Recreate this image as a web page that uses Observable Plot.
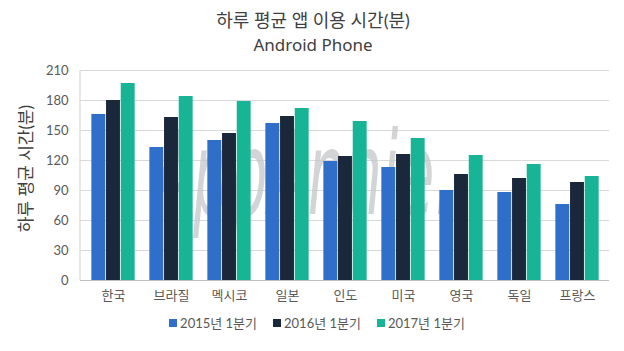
<!DOCTYPE html>
<html>
<head>
<meta charset="utf-8">
<script src="https://cdn.jsdelivr.net/npm/d3@7"></script>
<script src="https://cdn.jsdelivr.net/npm/@observablehq/plot@0.6"></script>
<style>
  html, body { margin: 0; padding: 0; background: #fff; }
  body { width: 624px; height: 351px; position: relative; overflow: hidden;
         font-family: Lato, "Noto Sans CJK KR", sans-serif; color: #404040; }
  .title { position: absolute; left: 0; width: 626px; top: 8px; text-align: center; font-size: 18px; line-height: 24px; }
  .subtitle { position: absolute; left: 0; width: 626px; top: 33px; text-align: center; font-size: 17px; line-height: 24px; font-family: "Noto Sans", sans-serif; }
  #chart { position: absolute; left: 0; top: 58px; }
  .legend { position: absolute; left: 0; width: 634px; top: 314px; display: flex; justify-content: center; gap: 16px;
            font-size: 13px; line-height: 18px; color: #595959; }
  .legend span.sw { display: inline-block; width: 8px; height: 8px; margin-right: 3px; vertical-align: 1px; }
</style>
</head>
<body>
<div class="title" id="title"></div>
<div class="subtitle" id="subtitle"></div>
<div id="chart"></div>
<div class="legend" id="legend"></div>
<script>
const titleText = "하루 평균 앱 이용 시간(분)";
const subtitleText = "Android Phone";
const yLabel = "하루 평균 시간(분)";
const watermark = "AppAnnie.";
const countries = ["한국", "브라질", "멕시코", "일본", "인도", "미국", "영국", "독일", "프랑스"];
const seriesNames = ["2015년 1분기", "2016년 1분기", "2017년 1분기"];
const v2015 = [166, 133, 140, 157, 119, 113, 90, 88, 76];
const v2016 = [180, 163, 147, 164, 124, 126, 106, 102, 98];
const v2017 = [197, 184, 179, 172, 159, 142, 125, 116, 104];
const yTicks = [0, 30, 60, 90, 120, 150, 180, 210];
const colors = ["#2f6fc9", "#1b283c", "#17b495"];

document.getElementById("title").textContent = titleText;
document.getElementById("subtitle").textContent = subtitleText;

const W = 624, H = 252, mL = 80, mR = 15, mT = 12, mB = 30;
const band = (W - mL - mR) / countries.length;
const barW = band / 4;
const inset = (band - barW) / 2;

const seriesValues = [v2015, v2016, v2017];
const barMarks = seriesValues.map((vals, k) =>
  Plot.barY(countries.map((c, i) => ({country: c, value: vals[i]})), {
    x: "country", y: "value", fill: colors[k],
    insetLeft: inset, insetRight: inset, dx: (k - 1) * barW
  })
);

const chart = Plot.plot({
  width: W, height: H,
  marginLeft: mL, marginRight: mR, marginTop: mT, marginBottom: mB,
  style: {fontSize: "13px", color: "#595959", fontFamily: 'Lato, "Noto Sans CJK KR", sans-serif', background: "transparent", overflow: "visible"},
  x: {type: "band", domain: countries, padding: 0, tickSize: 0, tickPadding: 10, label: null},
  y: {domain: [0, 210], ticks: yTicks, tickSize: 0, tickPadding: 12, label: null},
  marks: [
    Plot.ruleY(yTicks.slice(1), {stroke: "#d9d9d9", strokeWidth: 1.2}),
    Plot.text([watermark], {frameAnchor: "middle", dx: -42, dy: 2, fontSize: 115, fontStyle: "italic",
      fill: "#c4c6c8", fillOpacity: 0.75, fontFamily: '"Liberation Sans Narrow", "DejaVu Sans Condensed", sans-serif'}),
    ...barMarks,
    Plot.ruleY([0], {stroke: "#bfbfbf", strokeWidth: 1.2}),
    Plot.text([yLabel], {frameAnchor: "left", textAnchor: "middle", dx: -54, dy: -7, rotate: -90, fontSize: 17, fill: "#404040"})
  ]
});

// left frame line and watermark fitting
const svg = d3.select(chart);
svg.append("line").attr("x1", mL).attr("x2", mL).attr("y1", mT).attr("y2", H - mB)
  .attr("stroke", "#d9d9d9").attr("stroke-width", 1.2);
svg.selectAll("text").filter(function() { return this.textContent === watermark; })
  .attr("textLength", 300).attr("lengthAdjust", "spacingAndGlyphs");

document.getElementById("chart").appendChild(chart);

const legend = document.getElementById("legend");
seriesNames.forEach((name, k) => {
  const item = document.createElement("div");
  const sw = document.createElement("span");
  sw.className = "sw"; sw.style.background = colors[k];
  item.appendChild(sw);
  item.appendChild(document.createTextNode(name));
  legend.appendChild(item);
});
</script>
</body>
</html>
